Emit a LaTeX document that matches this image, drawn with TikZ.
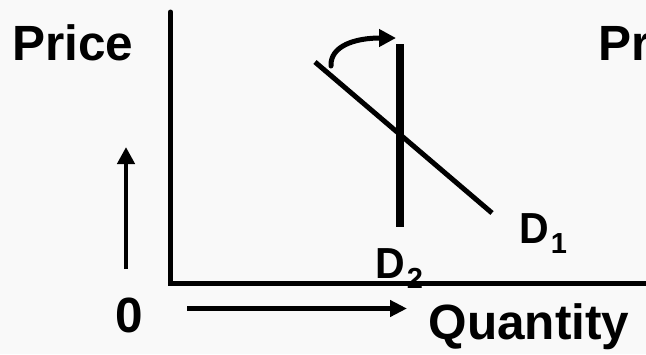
\documentclass[tikz,border=0pt]{standalone}
\usepackage{fontspec}
\setmainfont{Liberation Sans}
\usetikzlibrary{arrows.meta}
\definecolor{bgcol}{HTML}{F9F9F9}
\tikzset{
  big/.style={inner sep=0pt, font=\fontsize{49.5}{49.5}\bfseries\selectfont, anchor=base west},
  dlab/.style={inner sep=0pt, font=\fontsize{41}{41}\bfseries\selectfont, anchor=base west},
  axisline/.style={line width=5pt, line cap=round, line join=miter},
  curveline/.style={line width=5pt},
  tipbig/.style={-{Triangle[length=17pt,width=17pt]}}
}
\newcommand{\subnum}[1]{\kern2pt\raisebox{-10pt}{\fontsize{29}{29}\bfseries\selectfont #1}}
\begin{document}
\begin{tikzpicture}[x=1pt,y=-1pt]
\useasboundingbox (0,0) rectangle (646,354);
\clip (0,0) rectangle (646,354);
\fill[bgcol] (0,0) rectangle (646,354);
% labels
\node[big] (priceL) at (12,60) {Price};
\node[big] (priceR) at (598.5,60) {Price};
\node[big, anchor=base] (zero) at (129.5,332.5) {0};
\node[big] (qty) at (428.5,339.5) {Quantity};
\node[dlab] (d1) at (519,243) {\scalebox{1}[1.06]{D}\subnum{1}};
\node[dlab] (d2) at (375,278) {\scalebox{1}[1.06]{D}\subnum{2}};
% axes
\coordinate (ytop) at (170.5,12);
\coordinate (origin) at (170.5,283.5);
\coordinate (xend) at (650,283.5);
\draw[axisline] (ytop) -- (origin) -- (xend);
% demand curves
\coordinate (d2top) at (400,44);
\coordinate (d2bot) at (400,227);
\draw[line width=8pt] (d2top) -- (d2bot);
\coordinate (d1top) at (315,62);
\coordinate (d1bot) at (492,213);
\draw[line width=5pt] (d1top) -- (d1bot);
% rotation arrow
\coordinate (rotS) at (331,66);
\coordinate (rotE) at (396,38);
\draw[curveline, line cap=round, -{Triangle[length=17pt,width=17pt]}] (rotS) .. controls (330,46) and (355,38) .. (rotE);
% direction arrows
\coordinate (upS) at (126,269);
\coordinate (upE) at (126,147);
\draw[line width=4.5pt, tipbig] (upS) -- (upE);
\coordinate (rtS) at (187,308.5);
\coordinate (rtE) at (407,308.5);
\draw[line width=4.5pt, -{Triangle[length=17pt,width=16pt]}] (rtS) -- (rtE);
\end{tikzpicture}
\end{document}
